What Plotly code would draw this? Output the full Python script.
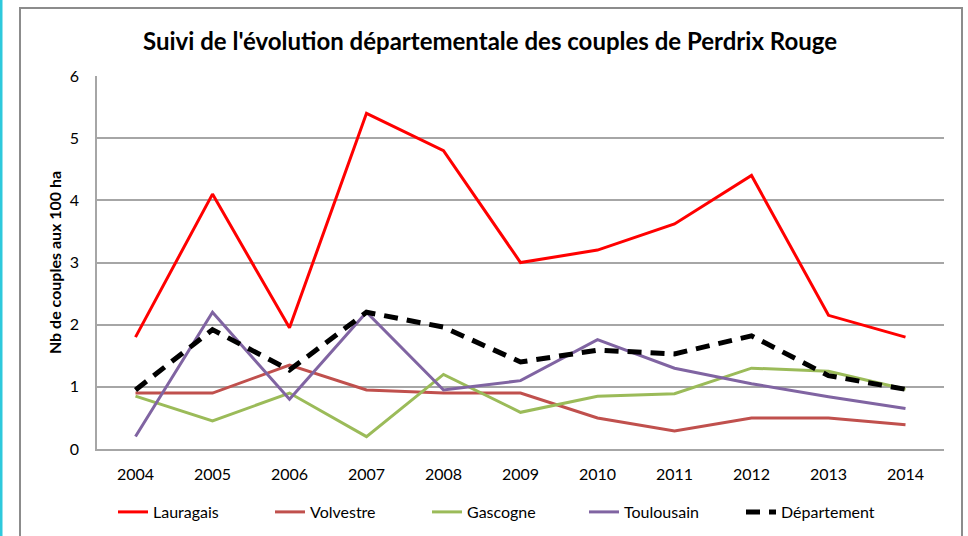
import plotly.graph_objects as go

years = ["2004", "2005", "2006", "2007", "2008", "2009", "2010", "2011", "2012", "2013", "2014"]
lauragais = [1.8, 4.1, 1.95, 5.4, 4.8, 3.0, 3.2, 3.62, 4.4, 2.15, 1.8]
volvestre = [0.9, 0.9, 1.35, 0.95, 0.9, 0.9, 0.5, 0.29, 0.5, 0.5, 0.39]
gascogne = [0.85, 0.45, 0.9, 0.2, 1.2, 0.59, 0.85, 0.89, 1.3, 1.25, 0.96]
toulousain = [0.2, 2.2, 0.8, 2.2, 0.95, 1.1, 1.76, 1.3, 1.05, 0.84, 0.65]
departement = [0.95, 1.92, 1.27, 2.2, 1.96, 1.4, 1.59, 1.53, 1.82, 1.18, 0.96]
y_ticks = [0, 1, 2, 3, 4, 5, 6]

FONT = "Lato, 'Open Sans', sans-serif"

fig = go.Figure()
series = [
    ("Lauragais", lauragais, "#FF0000", 3, "solid"),
    ("Volvestre", volvestre, "#C0504D", 3, "solid"),
    ("Gascogne", gascogne, "#9BBB59", 3, "solid"),
    ("Toulousain", toulousain, "#8064A2", 3, "solid"),
    ("Département", departement, "#000000", 5, "14px,9px"),
]
for name, vals, color, w, dash in series:
    fig.add_trace(go.Scatter(x=years, y=vals, name=name, mode="lines",
                             line=dict(color=color, width=w, dash=dash)))

W, H = 968, 536
L, R, T, B = 97, 24, 76, 87
pw, ph = W - L - R, H - T - B

def px(x):
    return (x - L) / pw

def py(y):
    return (H - B - y) / ph

fig.update_layout(
    width=W, height=H,
    margin=dict(l=L, r=R, t=T, b=B),
    paper_bgcolor="white", plot_bgcolor="white",
    font=dict(family=FONT, size=16, color="#000000"),
    title=dict(text="<b>Suivi de l'évolution départementale des couples de Perdrix Rouge</b>",
               x=(490) / W, xanchor="center", y=1 - 42 / H, yanchor="middle",
               font=dict(size=24, family=FONT)),
    xaxis=dict(type="category", range=[-0.5, 10.5], showgrid=False, showline=True,
               linecolor="#A6A6A6", linewidth=1.5, ticks="", ticklabelstandoff=10,
               tickfont=dict(size=16), automargin=False),
    yaxis=dict(range=[0, 6], tickvals=y_ticks, showgrid=True, gridcolor="#A6A6A6",
               gridwidth=1.5, showline=True, linecolor="#A6A6A6", linewidth=1.5,
               ticks="", ticklabelstandoff=13, zeroline=False, tickfont=dict(size=16),
               automargin=False,
               title=dict(text="<b>Nb de couples aux 100 ha</b>", font=dict(size=16),
                          standoff=4)),
    legend=dict(orientation="h", xref="container", yref="container",
                x=113 / W, xanchor="left", y=1 - 512 / H, yanchor="middle",
                entrywidth=112, entrywidthmode="pixels", font=dict(size=16),
                bgcolor="rgba(0,0,0,0)", tracegroupgap=0),
    showlegend=True,
    shapes=[
        dict(type="rect", xref="paper", yref="paper", x0=px(20), x1=px(962),
             y0=py(540), y1=py(8), line=dict(color="#8C8C8C", width=2),
             fillcolor="rgba(0,0,0,0)", layer="below"),
        dict(type="rect", xref="paper", yref="paper", x0=px(0), x1=px(2.5),
             y0=py(540), y1=py(-5), line=dict(width=0), fillcolor="#2EC9DC"),
    ],
)

fig.write_html("out.html", config={"displayModeBar": False},
               post_script="document.body.style.margin='0';document.body.style.overflow='hidden';")
